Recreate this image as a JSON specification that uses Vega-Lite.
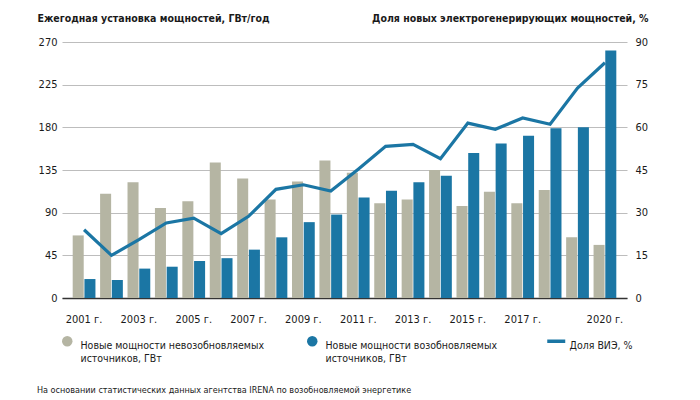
{
  "$schema": "https://vega.github.io/schema/vega-lite/v6.json",
  "description": "Ежегодная установка мощностей и доля ВИЭ, 2001-2020",
  "width": 565,
  "height": 256,
  "autosize": "none",
  "padding": {"left": 62, "top": 42, "right": 73, "bottom": 102},
  "background": "white",
  "config": {
    "font": "DejaVu Sans Condensed, sans-serif",
    "view": {"stroke": null},
    "axis": {"labelFontSize": 11, "labelColor": "#1a1a1a", "titleColor": "#1a1a1a", "labelFont": "DejaVu Sans Condensed, sans-serif", "titleFont": "DejaVu Sans Condensed, sans-serif"},
    "legend": {"labelFont": "DejaVu Sans Condensed, sans-serif"},
    "title": {"font": "DejaVu Sans Condensed, sans-serif"}
  },
  "title": {
    "text": "На основании статистических данных агентства IRENA по возобновляемой энергетике",
    "orient": "bottom",
    "anchor": "start",
    "frame": "bounds",
    "fontSize": 9,
    "fontWeight": "normal",
    "color": "#1a1a1a",
    "offset": 21
  },
  "datasets": {
    "capacity": [
      {"year": 2001, "series": "Новые мощности невозобновляемых источников, ГВт", "value": 66},
      {"year": 2001, "series": "Новые мощности возобновляемых источников, ГВт", "value": 20},
      {"year": 2002, "series": "Новые мощности невозобновляемых источников, ГВт", "value": 110},
      {"year": 2002, "series": "Новые мощности возобновляемых источников, ГВт", "value": 19},
      {"year": 2003, "series": "Новые мощности невозобновляемых источников, ГВт", "value": 122},
      {"year": 2003, "series": "Новые мощности возобновляемых источников, ГВт", "value": 31},
      {"year": 2004, "series": "Новые мощности невозобновляемых источников, ГВт", "value": 95},
      {"year": 2004, "series": "Новые мощности возобновляемых источников, ГВт", "value": 33},
      {"year": 2005, "series": "Новые мощности невозобновляемых источников, ГВт", "value": 102},
      {"year": 2005, "series": "Новые мощности возобновляемых источников, ГВт", "value": 39},
      {"year": 2006, "series": "Новые мощности невозобновляемых источников, ГВт", "value": 143},
      {"year": 2006, "series": "Новые мощности возобновляемых источников, ГВт", "value": 42},
      {"year": 2007, "series": "Новые мощности невозобновляемых источников, ГВт", "value": 126},
      {"year": 2007, "series": "Новые мощности возобновляемых источников, ГВт", "value": 51},
      {"year": 2008, "series": "Новые мощности невозобновляемых источников, ГВт", "value": 104},
      {"year": 2008, "series": "Новые мощности возобновляемых источников, ГВт", "value": 64},
      {"year": 2009, "series": "Новые мощности невозобновляемых источников, ГВт", "value": 123},
      {"year": 2009, "series": "Новые мощности возобновляемых источников, ГВт", "value": 80},
      {"year": 2010, "series": "Новые мощности невозобновляемых источников, ГВт", "value": 145},
      {"year": 2010, "series": "Новые мощности возобновляемых источников, ГВт", "value": 88},
      {"year": 2011, "series": "Новые мощности невозобновляемых источников, ГВт", "value": 132},
      {"year": 2011, "series": "Новые мощности возобновляемых источников, ГВт", "value": 106},
      {"year": 2012, "series": "Новые мощности невозобновляемых источников, ГВт", "value": 100},
      {"year": 2012, "series": "Новые мощности возобновляемых источников, ГВт", "value": 113},
      {"year": 2013, "series": "Новые мощности невозобновляемых источников, ГВт", "value": 104},
      {"year": 2013, "series": "Новые мощности возобновляемых источников, ГВт", "value": 122},
      {"year": 2014, "series": "Новые мощности невозобновляемых источников, ГВт", "value": 135},
      {"year": 2014, "series": "Новые мощности возобновляемых источников, ГВт", "value": 129},
      {"year": 2015, "series": "Новые мощности невозобновляемых источников, ГВт", "value": 97},
      {"year": 2015, "series": "Новые мощности возобновляемых источников, ГВт", "value": 153},
      {"year": 2016, "series": "Новые мощности невозобновляемых источников, ГВт", "value": 112},
      {"year": 2016, "series": "Новые мощности возобновляемых источников, ГВт", "value": 163},
      {"year": 2017, "series": "Новые мощности невозобновляемых источников, ГВт", "value": 100},
      {"year": 2017, "series": "Новые мощности возобновляемых источников, ГВт", "value": 171},
      {"year": 2018, "series": "Новые мощности невозобновляемых источников, ГВт", "value": 114},
      {"year": 2018, "series": "Новые мощности возобновляемых источников, ГВт", "value": 179},
      {"year": 2019, "series": "Новые мощности невозобновляемых источников, ГВт", "value": 64},
      {"year": 2019, "series": "Новые мощности возобновляемых источников, ГВт", "value": 180},
      {"year": 2020, "series": "Новые мощности невозобновляемых источников, ГВт", "value": 56},
      {"year": 2020, "series": "Новые мощности возобновляемых источников, ГВт", "value": 261}
    ],
    "share": [
      {"year": 2001, "share": 24.0},
      {"year": 2002, "share": 15.0},
      {"year": 2003, "share": 20.5},
      {"year": 2004, "share": 26.4},
      {"year": 2005, "share": 28.1},
      {"year": 2006, "share": 22.6},
      {"year": 2007, "share": 28.7},
      {"year": 2008, "share": 38.2},
      {"year": 2009, "share": 39.8},
      {"year": 2010, "share": 37.6},
      {"year": 2011, "share": 45.3},
      {"year": 2012, "share": 53.3},
      {"year": 2013, "share": 54.0},
      {"year": 2014, "share": 49.0},
      {"year": 2015, "share": 61.5},
      {"year": 2016, "share": 59.3},
      {"year": 2017, "share": 63.3},
      {"year": 2018, "share": 61.1},
      {"year": 2019, "share": 73.8},
      {"year": 2020, "share": 82.7}
    ]
  },
  "encoding": {
    "x": {
      "field": "year",
      "type": "ordinal",
      "scale": {"paddingInner": 0.17, "paddingOuter": 0.39},
      "title": null,
      "axis": {
        "values": [2001, 2003, 2005, 2007, 2009, 2011, 2013, 2015, 2017, 2020],
        "labelExpr": "datum.label + ' г.'",
        "labelAngle": 0,
        "ticks": false,
        "labelPadding": 15,
        "domainColor": "#333333",
        "domainWidth": 1.5,
        "grid": false
      }
    }
  },
  "layer": [
    {
      "data": {"name": "capacity"},
      "mark": {"type": "bar"},
      "encoding": {
        "xOffset": {"field": "series", "type": "nominal", "sort": null, "scale": {"paddingInner": 0.06}},
        "y": {
          "field": "value",
          "type": "quantitative",
          "scale": {"domain": [0, 270]},
          "axis": {
            "values": [0, 45, 90, 135, 180, 225, 270],
            "title": "Ежегодная установка мощностей, ГВт/год",
            "titleAngle": 0,
            "titleAlign": "left",
            "titleBaseline": "alphabetic",
            "titleX": -25,
            "titleY": -21,
            "titleFontSize": 10.5,
            "titleFontWeight": "bold",
            "domain": false,
            "ticks": false,
            "labelPadding": 5,
            "gridColor": "#bdbdbd",
            "gridWidth": 1
          }
        },
        "color": {
          "field": "series",
          "type": "nominal",
          "scale": {
            "domain": ["Новые мощности невозобновляемых источников, ГВт", "Новые мощности возобновляемых источников, ГВт", "Доля ВИЭ, %"],
            "range": ["#b5b5a3", "#1b76a4", "#1b76a4"]
          },
          "legend": {
            "orient": "bottom",
            "direction": "horizontal",
            "title": null,
            "offset": 12,
            "symbolType": "circle",
            "symbolSize": 110,
            "symbolStrokeWidth": 0,
            "labelFontSize": 10.5,
            "labelColor": "#1a1a1a",
            "labelBaseline": "top",
            "labelOffset": 8,
            "gridAlign": "none",
            "columnPadding": 42,
            "labelLimit": 300,
            "labelExpr": "datum.label == 'Доля ВИЭ, %' ? [datum.label, ' '] : [slice(datum.label, 0, indexof(datum.label, ' источников')), 'источников, ГВт']",
            "encode": {
              "symbols": {
                "update": {
                  "shape": {"signal": "datum.value == 'Доля ВИЭ, %' ? 'stroke' : 'circle'"},
                  "size": {"signal": "datum.value == 'Доля ВИЭ, %' ? 324 : 110"},
                  "stroke": {"scale": "color", "field": "value"},
                  "strokeWidth": {"signal": "datum.value == 'Доля ВИЭ, %' ? 3.5 : 0"}
                }
              }
            }
          }
        }
      }
    },
    {
      "data": {"name": "share"},
      "mark": {"type": "line", "strokeWidth": 3.2, "strokeJoin": "miter"},
      "encoding": {
        "y": {
          "field": "share",
          "type": "quantitative",
          "scale": {"domain": [0, 90]},
          "axis": {
            "orient": "right",
            "values": [0, 15, 30, 45, 60, 75, 90],
            "title": "Доля новых электрогенерирующих мощностей, %",
            "titleAngle": 0,
            "titleAlign": "right",
            "titleBaseline": "alphabetic",
            "titleX": 21,
            "titleY": -21,
            "titleFontSize": 10.5,
            "titleFontWeight": "bold",
            "domain": false,
            "ticks": false,
            "grid": false,
            "labelPadding": 8
          }
        },
        "color": {"datum": "Доля ВИЭ, %"}
      }
    }
  ],
  "resolve": {"scale": {"y": "independent"}}
}
